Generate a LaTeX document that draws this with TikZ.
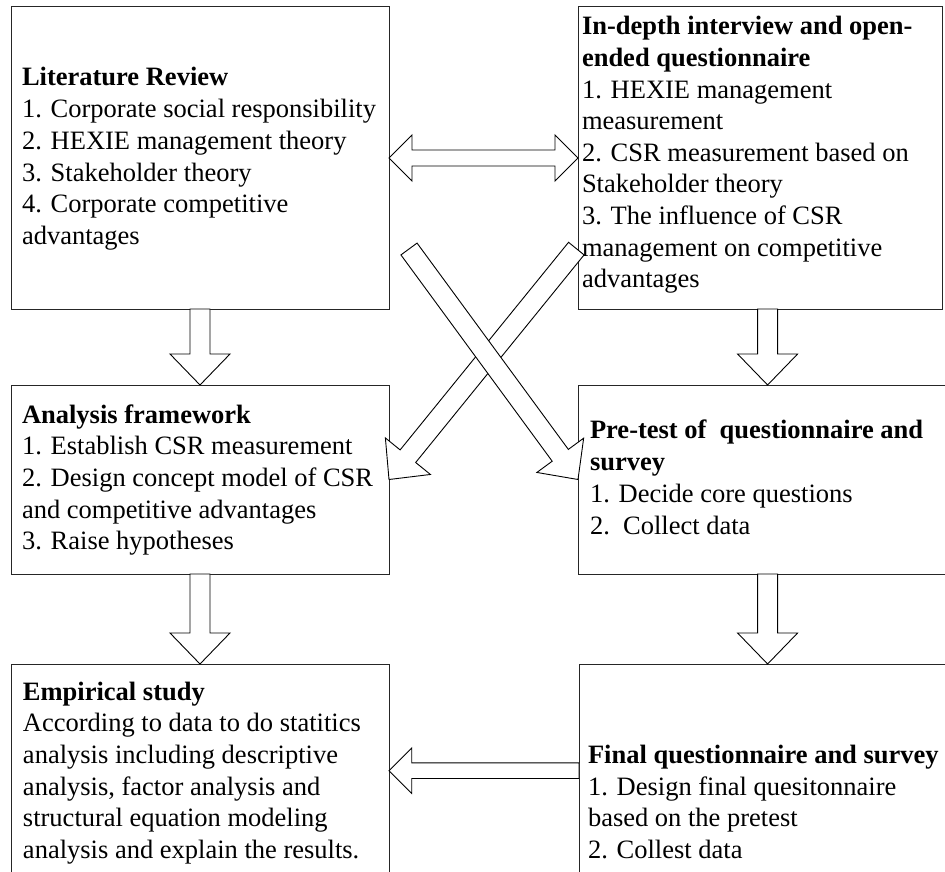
\documentclass[tikz,border=0pt]{standalone}
\usepackage{fontspec}
\setmainfont{Liberation Serif}
\usetikzlibrary{calc}

\tikzset{
  stagebox/.style={draw=black!85, line width=1pt, rectangle, inner sep=0pt, outer sep=0pt},
  blocktext/.style={anchor=base west, inner sep=0pt, outer sep=0pt,
    font=\fontsize{26.5pt}{31.7pt}\selectfont},
  blk/.style={draw=black, line width=0.9pt, fill=white, line join=miter},
}

% stacked lines whose baseline is the baseline of the first line
\newcommand\linesbox[1]{\vtop{\lineskiplimit=-50pt #1}}

% hollow block arrow: tail, tip, shaft half width, head half width, head length
\newcommand\BlkArrow[5]{%
  \path ($(#2)!#5pt!(#1)$) coordinate (ah);
  \draw[blk] ($(#1)!#3pt!90:(#2)$)
    -- ($(ah)!#3pt!-90:(#1)$)
    -- ($(ah)!#4pt!-90:(#1)$)
    -- (#2)
    -- ($(ah)!#4pt!90:(#1)$)
    -- ($(ah)!#3pt!90:(#1)$)
    -- ($(#1)!#3pt!-90:(#2)$) -- cycle;}

% hollow double-headed block arrow: tip, tip, shaft half width, head half width, head length
\newcommand\BlkDblArrow[5]{%
  \path ($(#1)!#5pt!(#2)$) coordinate (ha) ($(#2)!#5pt!(#1)$) coordinate (hb);
  \draw[blk] (#1)
    -- ($(ha)!#4pt!90:(#2)$) -- ($(ha)!#3pt!90:(#2)$)
    -- ($(hb)!#3pt!-90:(#1)$) -- ($(hb)!#4pt!-90:(#1)$)
    -- (#2)
    -- ($(hb)!#4pt!90:(#1)$) -- ($(hb)!#3pt!90:(#1)$)
    -- ($(ha)!#3pt!-90:(#2)$) -- ($(ha)!#4pt!-90:(#2)$) -- cycle;}

\begin{document}
\begin{tikzpicture}[x=1pt,y=-1pt]
\useasboundingbox (0,0) rectangle (945,872);
\fill[white] (0,0) rectangle (945,872);
\clip (0,0) rectangle (945,872);

% stage boxes
\node[stagebox, minimum width=378pt, minimum height=302pt] (lit) at (200,158) {};
\node[stagebox, minimum width=364pt, minimum height=302pt] (int) at (760,158) {};
\node[stagebox, minimum width=378pt, minimum height=189pt] (ana) at (200,479.5) {};
\node[stagebox, minimum width=382pt, minimum height=189pt] (pre) at (769,479.5) {};
\node[stagebox, minimum width=378pt, minimum height=226pt] (emp) at (200,777) {};
\node[stagebox, minimum width=381pt, minimum height=226pt] (fin) at (769.5,777) {};

% box contents
\node[blocktext] (litT) at (22,86) {\linesbox{%
  \hbox{\bfseries Literature Review}
  \hbox{1. Corporate social responsibility}
  \hbox{2. HEXIE management theory}
  \hbox{3. Stakeholder theory}
  \hbox{4. Corporate competitive}
  \hbox{advantages}}};

\node[blocktext] (intT) at (582,35) {\linesbox{\baselineskip=31.6pt
  \hbox{\bfseries In-depth interview and open-}
  \hbox{\bfseries ended questionnaire}
  \hbox{1. HEXIE management}
  \hbox{measurement}
  \hbox{2. CSR measurement based on}
  \hbox{Stakeholder theory}
  \hbox{3. The influence of CSR}
  \hbox{management on competitive}
  \hbox{advantages}}};

\node[blocktext] (anaT) at (22,423) {\linesbox{%
  \hbox{\bfseries Analysis framework}
  \hbox{1. Establish CSR measurement}
  \hbox{2. Design concept model of CSR}
  \hbox{and competitive advantages}
  \hbox{3. Raise hypotheses}}};

\node[blocktext] (preT) at (590,438) {\linesbox{\baselineskip=32pt
  \hbox{\bfseries Pre-test of\ \ questionnaire and}
  \hbox{\bfseries survey}
  \hbox{1. Decide core questions}
  \hbox{2.\ \ Collect data}}};

\node[blocktext] (empT) at (23,700) {\linesbox{%
  \hbox{\bfseries Empirical study}
  \hbox{According to data to do statitics}
  \hbox{analysis including descriptive}
  \hbox{analysis, factor analysis and}
  \hbox{structural equation modeling}
  \hbox{analysis and explain the results.}}};

\node[blocktext] (finT) at (588,763.4) {\linesbox{%
  \hbox{\bfseries Final questionnaire and survey}
  \hbox{1. Design final quesitonnaire}
  \hbox{based on the pretest}
  \hbox{2. Collest data}}};

% reference lines for the arrows
\coordinate (rc) at (767.6,0);
\coordinate (bc) at (0,770.7);
\coordinate (xtailA) at (409,249);
\coordinate (xtailB) at (576.3,248.6);

% connectors
\BlkDblArrow{lit.east}{int.west}{8}{23}{23}
\BlkArrow{lit.south}{ana.north}{10}{30}{31}
\BlkArrow{int.south -| rc}{pre.north -| rc}{10}{30}{31}
\BlkArrow{ana.south}{emp.north}{10}{30}{31}
\BlkArrow{pre.south -| rc}{fin.north -| rc}{10}{30}{31}
\BlkArrow{fin.west |- bc}{emp.east |- bc}{7.8}{22.7}{22.7}
\BlkArrow{xtailB}{ana.east}{10}{29}{30}
\BlkArrow{xtailA}{pre.west}{10}{29}{30}
\end{tikzpicture}
\end{document}
